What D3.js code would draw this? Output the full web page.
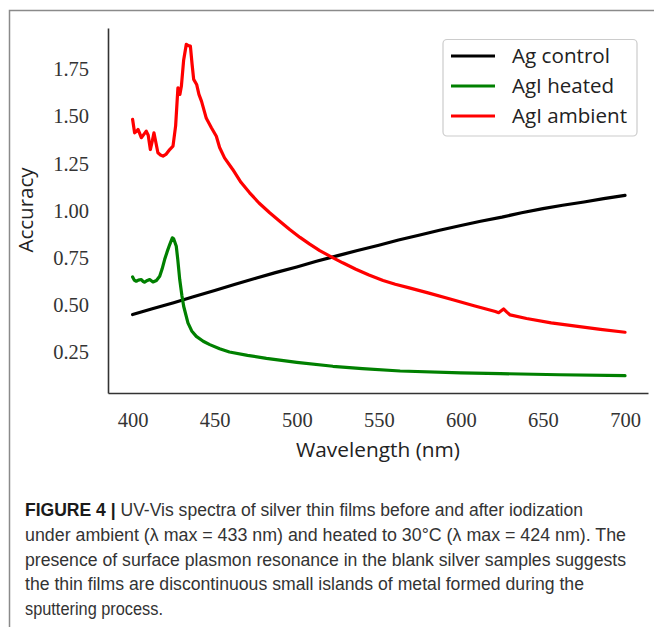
<!DOCTYPE html>
<html>
<head>
<meta charset="utf-8">
<script src="https://cdn.jsdelivr.net/npm/d3@7"></script>
<style>
  body { margin: 0; background: #fff; }
  svg { display: block; }
</style>
</head>
<body>
<svg id="chart" width="654" height="627"></svg>
<script>
// Series data (wavelength in nm, absorbance)
const controlNm = [400, 412, 425, 437, 450, 462, 475, 487, 500, 512, 525, 537, 550, 562, 575, 587, 600, 612, 625, 637, 650, 662, 675, 687, 700];
const controlVal = [0.447, 0.478, 0.51, 0.542, 0.575, 0.607, 0.64, 0.67, 0.70, 0.73, 0.76, 0.787, 0.815, 0.843, 0.87, 0.895, 0.92, 0.943, 0.965, 0.988, 1.01, 1.028, 1.045, 1.063, 1.08];

const heatedNm = [400, 401, 402.2, 403.5, 405.3, 406.5, 407.3, 409, 410.4, 412.4, 414.5, 416.5, 418, 419.5, 421, 422.6, 424.2, 425, 426.6, 427.5, 428.7, 430, 431.1, 433.7, 436, 438.8, 443, 447, 453, 459, 470, 481.5, 500, 522, 540, 563, 600, 624, 660, 700];
const heatedVal = [0.647, 0.63, 0.624, 0.63, 0.633, 0.622, 0.619, 0.628, 0.633, 0.62, 0.628, 0.65, 0.69, 0.739, 0.78, 0.819, 0.855, 0.85, 0.81, 0.74, 0.633, 0.55, 0.491, 0.403, 0.36, 0.331, 0.305, 0.287, 0.265, 0.248, 0.23, 0.214, 0.193, 0.172, 0.16, 0.147, 0.137, 0.133, 0.127, 0.122];

const ambientNm = [400, 401.2, 402.3, 403.3, 404.3, 405.3, 407.3, 408.3, 409.5, 410.8, 412, 413, 414.2, 415.4, 417, 418.5, 420.5, 422.6, 424.6, 426.2, 427.6, 428.8, 429.7, 431.1, 432.7, 434, 435.2, 436.2, 437.2, 439, 440.4, 442, 444.9, 448, 451, 453, 456, 461, 466, 471.3, 477, 483.5, 490, 495.7, 502, 507.9, 514, 521, 528, 536, 544, 552.6, 560, 568, 580, 594, 608, 621, 623, 626, 628, 630, 640, 655, 670, 685, 700];
const ambientVal = [1.484, 1.413, 1.42, 1.431, 1.41, 1.387, 1.41, 1.422, 1.40, 1.324, 1.37, 1.413, 1.36, 1.307, 1.295, 1.289, 1.30, 1.324, 1.342, 1.45, 1.652, 1.617, 1.66, 1.80, 1.883, 1.876, 1.874, 1.78, 1.697, 1.67, 1.617, 1.58, 1.49, 1.44, 1.395, 1.335, 1.28, 1.218, 1.15, 1.094, 1.04, 0.988, 0.94, 0.899, 0.857, 0.821, 0.787, 0.754, 0.722, 0.688, 0.657, 0.628, 0.608, 0.59, 0.562, 0.528, 0.494, 0.463, 0.457, 0.477, 0.46, 0.445, 0.426, 0.403, 0.385, 0.368, 0.353];

const seriesNames = ["Ag control", "AgI heated", "AgI ambient"];
const seriesColors = ["#000000", "#008000", "#ff0000"];

const xTicks = [400, 450, 500, 550, 600, 650, 700];
const yTicks = [0.25, 0.50, 0.75, 1.00, 1.25, 1.50, 1.75];

const captionLines = [
  "UV-Vis spectra of silver thin films before and after iodization",
  "under ambient (\u03bb max = 433 nm) and heated to 30\u00b0C (\u03bb max = 424 nm). The",
  "presence of surface plasmon resonance in the blank silver samples suggests",
  "the thin films are discontinuous small islands of metal formed during the",
  "sputtering process."
];
const captionLabel = "FIGURE 4 |";

const svg = d3.select("#chart");

// outer frame of the figure panel
svg.append("path")
  .attr("d", "M9.5,627 L9.5,10.5 L654,10.5")
  .attr("fill", "none")
  .attr("stroke", "#8a8a8a")
  .attr("stroke-width", 1.5);

const x = d3.scaleLinear().domain([385, 714]).range([108, 648]);
const y = d3.scaleLinear().domain([0.03, 1.97]).range([393, 28]);

const serif = "'Liberation Serif', 'DejaVu Serif', serif";
const sans = "'Open Sans', 'DejaVu Sans', sans-serif";

// x axis
const gx = svg.append("g")
  .attr("transform", `translate(0,${y.range()[0]})`)
  .call(d3.axisBottom(x).tickValues(xTicks).tickSize(0).tickPadding(19).tickFormat(d3.format("d")));
gx.select(".domain").attr("stroke", "#333").attr("stroke-width", 1.6);
gx.selectAll("text").attr("font-family", serif).attr("font-size", 20.5).attr("fill", "#333");

// y axis
const gy = svg.append("g")
  .attr("transform", `translate(${x.range()[0]},0)`)
  .call(d3.axisLeft(y).tickValues(yTicks).tickSize(0).tickPadding(19).tickFormat(d3.format(".2f")));
gy.select(".domain").attr("stroke", "#333").attr("stroke-width", 1.6);
gy.selectAll("text").attr("font-family", serif).attr("font-size", 20.5).attr("fill", "#333");

// axis titles
svg.append("text")
  .attr("x", 378).attr("y", 457)
  .attr("text-anchor", "middle")
  .attr("font-family", sans).attr("font-size", 20).attr("fill", "#222")
  .attr("textLength", 164).attr("lengthAdjust", "spacingAndGlyphs")
  .text("Wavelength (nm)");

svg.append("text")
  .attr("transform", "translate(33,210) rotate(-90)")
  .attr("text-anchor", "middle")
  .attr("font-family", sans).attr("font-size", 20).attr("fill", "#222")
  .attr("textLength", 85).attr("lengthAdjust", "spacingAndGlyphs")
  .text("Accuracy");

// curves
const line = d3.line().x(d => x(d[0])).y(d => y(d[1])).curve(d3.curveLinear);
const series = [
  d3.zip(controlNm, controlVal),
  d3.zip(heatedNm, heatedVal),
  d3.zip(ambientNm, ambientVal)
];
svg.selectAll("path.curve")
  .data(series)
  .enter().append("path")
  .attr("class", "curve")
  .attr("d", line)
  .attr("fill", "none")
  .attr("stroke", (d, i) => seriesColors[i])
  .attr("stroke-width", 3.2)
  .attr("stroke-linejoin", "round")
  .attr("stroke-linecap", "round");

// legend
const legendWidths = [98, 102, 115];
const legend = svg.append("g");
legend.append("rect")
  .attr("x", 443).attr("y", 39.5).attr("width", 194).attr("height", 96.5)
  .attr("rx", 4)
  .attr("fill", "#fff").attr("fill-opacity", 0.8)
  .attr("stroke", "#cccccc").attr("stroke-width", 1.2);
seriesNames.forEach((name, i) => {
  const ly = 56 + i * 30;
  legend.append("line")
    .attr("x1", 451).attr("x2", 495).attr("y1", ly).attr("y2", ly)
    .attr("stroke", seriesColors[i]).attr("stroke-width", 3.2);
  legend.append("text")
    .attr("x", 512).attr("y", ly).attr("dy", "0.35em")
    .attr("font-family", sans).attr("font-size", 20).attr("fill", "#222")
    .attr("textLength", legendWidths[i]).attr("lengthAdjust", "spacingAndGlyphs")
    .text(name);
});

// caption
const capFont = "'Liberation Sans', Arial, sans-serif";
const capWidths = [558, 601, 601, 559, 138];
captionLines.forEach((t, i) => {
  const txt = svg.append("text")
    .attr("x", 25).attr("y", 516 + i * 24.75)
    .attr("font-family", capFont).attr("font-size", 17.5).attr("fill", "#333")
    .attr("textLength", capWidths[i]).attr("lengthAdjust", "spacingAndGlyphs");
  if (i === 0) {
    txt.append("tspan").attr("font-weight", "bold").attr("fill", "#1a1a1a").text(captionLabel + " ");
  }
  txt.append("tspan").text(t);
});
</script>
</body>
</html>
